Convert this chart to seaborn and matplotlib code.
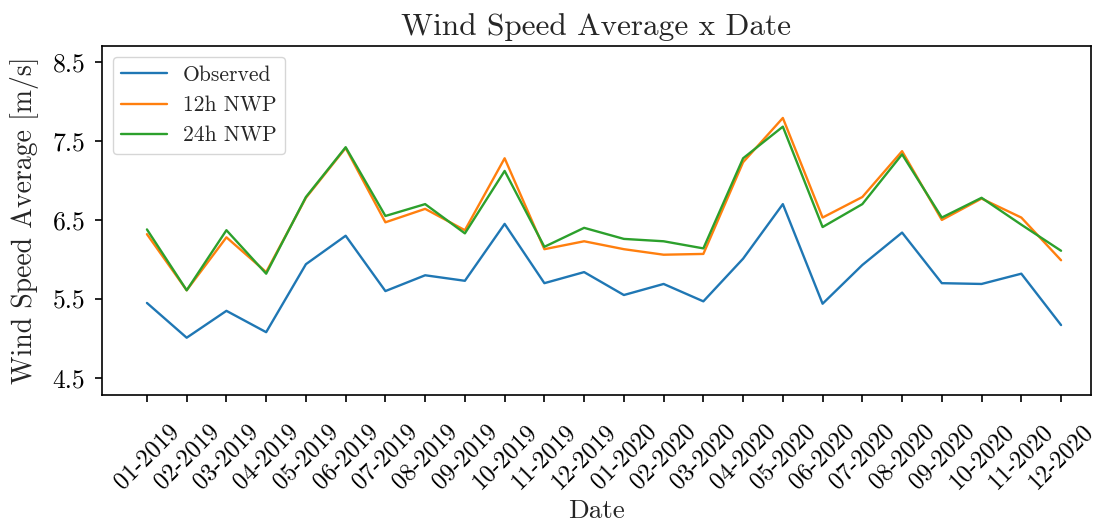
import matplotlib
matplotlib.use("Agg")
import matplotlib.pyplot as plt
import seaborn as sns
import pandas as pd

months = ["01-2019", "02-2019", "03-2019", "04-2019", "05-2019", "06-2019",
          "07-2019", "08-2019", "09-2019", "10-2019", "11-2019", "12-2019",
          "01-2020", "02-2020", "03-2020", "04-2020", "05-2020", "06-2020",
          "07-2020", "08-2020", "09-2020", "10-2020", "11-2020", "12-2020"]
observed = [5.45, 5.01, 5.35, 5.08, 5.94, 6.30, 5.60, 5.80, 5.73, 6.45, 5.70, 5.84,
            5.55, 5.69, 5.47, 6.01, 6.70, 5.44, 5.93, 6.34, 5.70, 5.69, 5.82, 5.17]
nwp12 = [6.32, 5.61, 6.28, 5.84, 6.78, 7.41, 6.47, 6.64, 6.37, 7.28, 6.13, 6.23,
         6.13, 6.06, 6.07, 7.23, 7.79, 6.53, 6.79, 7.37, 6.50, 6.77, 6.53, 5.99]
nwp24 = [6.38, 5.61, 6.37, 5.82, 6.79, 7.42, 6.55, 6.70, 6.33, 7.12, 6.16, 6.40,
         6.26, 6.23, 6.14, 7.28, 7.68, 6.41, 6.70, 7.33, 6.53, 6.78, 6.44, 6.11]
series_names = ["Observed", "12h NWP", "24h NWP"]
yticks = [4.5, 5.5, 6.5, 7.5, 8.5]

sns.set_theme(style="ticks")
plt.rcParams["font.family"] = ["cmr10", "DejaVu Serif"]
plt.rcParams["mathtext.fontset"] = "cm"
plt.rcParams["axes.formatter.use_mathtext"] = True

rows = []
for name, vals in zip(series_names, [observed, nwp12, nwp24]):
    for i, v in enumerate(vals):
        rows.append({"idx": i, "value": v, "series": name})
df = pd.DataFrame(rows)

fig, ax = plt.subplots(figsize=(11.03, 5.26), dpi=100)
fig.subplots_adjust(left=0.0925, right=0.989, top=0.9125, bottom=0.249)
sns.lineplot(data=df, x="idx", y="value", hue="series", ax=ax,
             palette=["#1f77b4", "#ff7f0e", "#2ca02c"], linewidth=1.7)

ax.set_xticks(range(len(months)))
ax.set_xticklabels(months, rotation=45, ha="center", fontsize=17.5)
ax.set_yticks(yticks)
ax.set_yticklabels([f"{t:.1f}" for t in yticks], fontsize=18.5)
ax.set_xlim(-1.13, 23.75)
ax.set_ylim(4.285, 8.70)
ax.set_xlabel("Date", fontsize=19.5, labelpad=4)
ax.set_ylabel("Wind Speed Average [m/s]", fontsize=20, labelpad=10)
ax.set_title("Wind Speed Average x Date", fontsize=22.5, pad=8)
for s in ax.spines.values():
    s.set_linewidth(1.2)
    s.set_color("black")
ax.tick_params(colors="black", width=1.2, length=5)
ax.tick_params(axis="x", pad=13)
ax.tick_params(axis="y", pad=7)
ax.legend(loc="upper left", fontsize=15.5, title=None, frameon=True,
          handlelength=2.1, handletextpad=0.75)

fig.savefig("out.png", dpi=100)
